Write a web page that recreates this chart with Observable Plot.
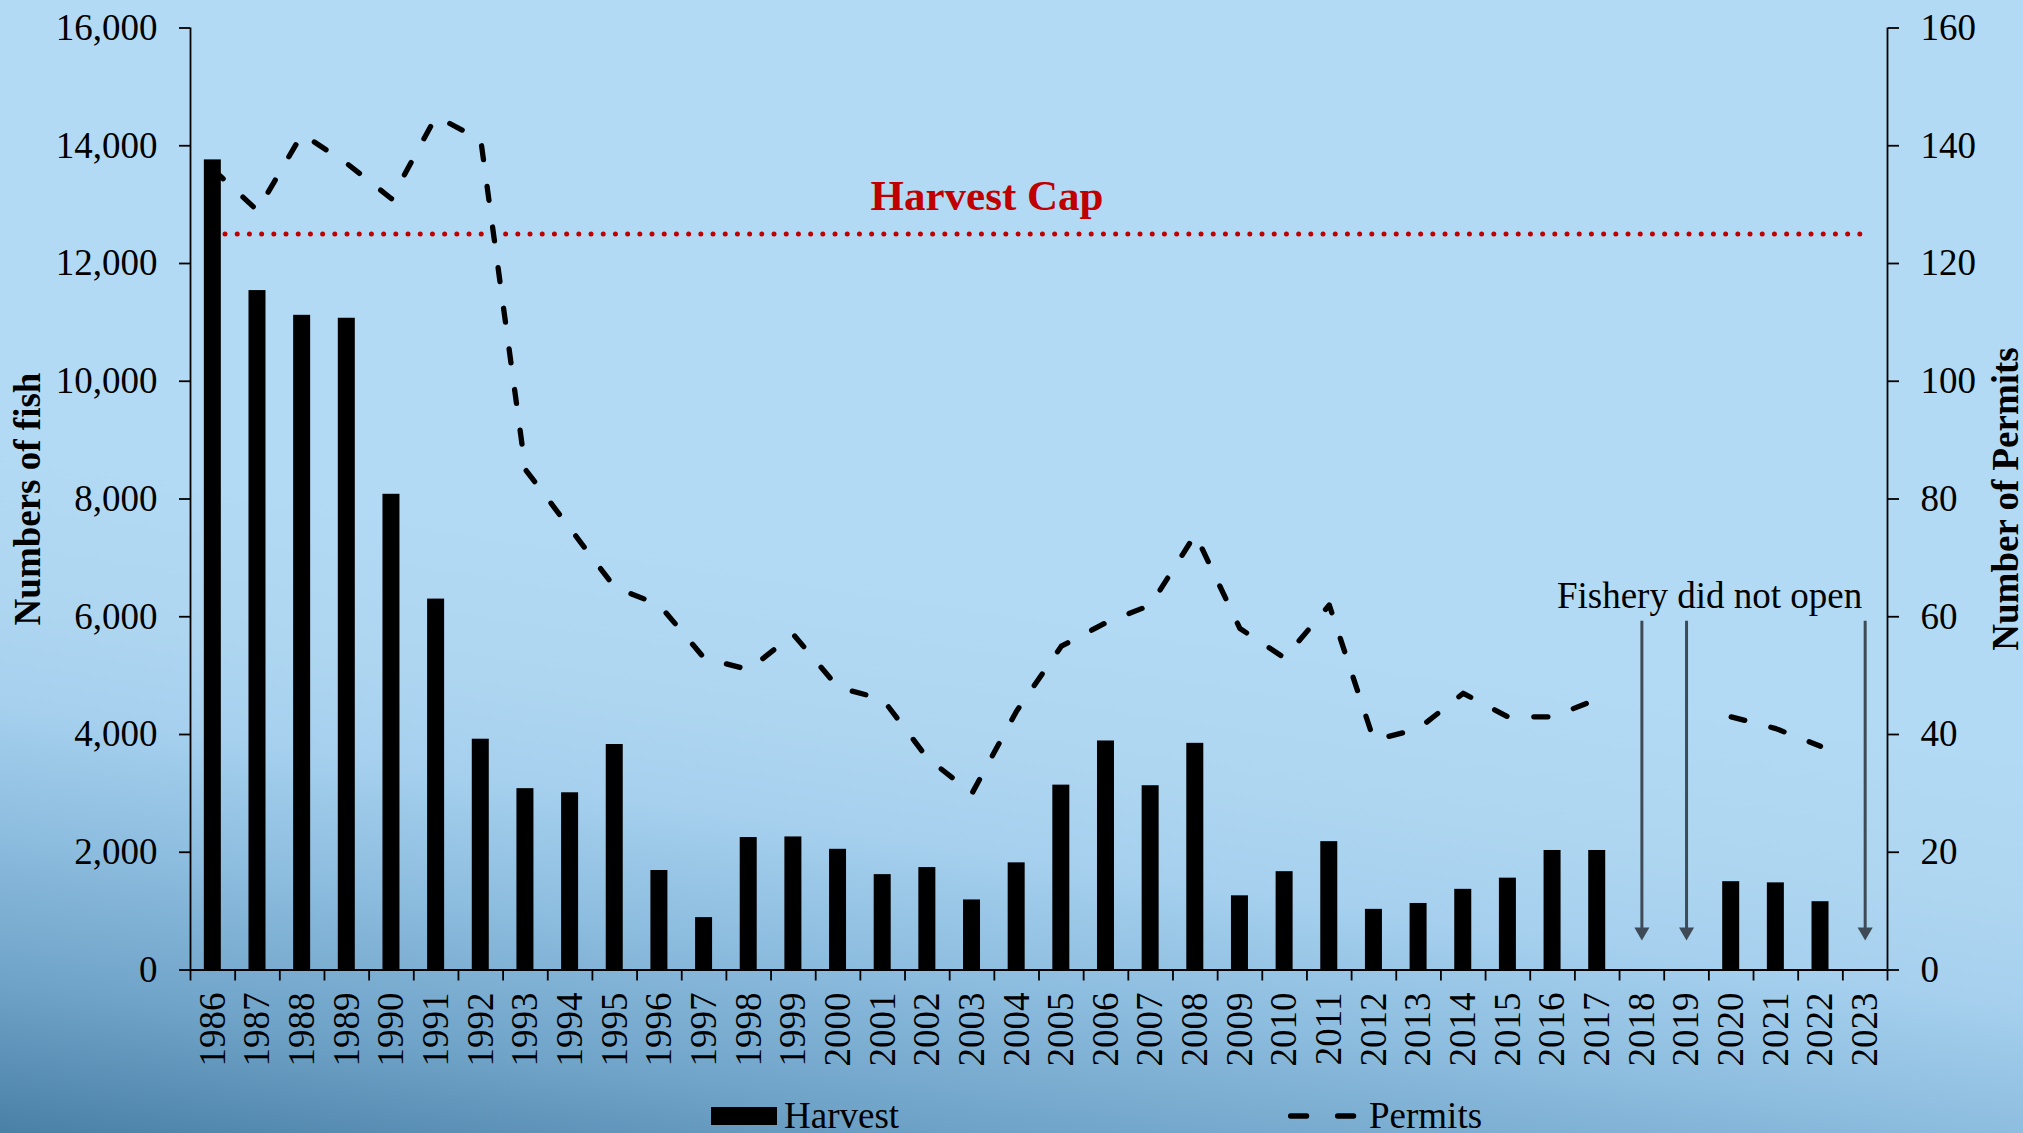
<!DOCTYPE html>
<html>
<head>
<meta charset="utf-8">
<script src="https://cdn.jsdelivr.net/npm/d3@7"></script>
<script src="https://cdn.jsdelivr.net/npm/@observablehq/plot@0.6"></script>
<style>
  html, body { margin: 0; padding: 0; }
  body { width: 2023px; height: 1133px; overflow: hidden; }
  #wrap {
    position: relative; width: 2023px; height: 1133px;
    font-family: "Liberation Serif", "Times New Roman", serif;
    background: linear-gradient(188.5deg, #B3DAF4 0%, #B3DAF4 52%, #AED6F1 63%, #A6D0EE 70%, #8DBDDF 79%, #6FA3C8 89.5%, #4B80A6 100%);
  }
  #chart { position: absolute; left: 0; top: 0; }
  #legend { position: absolute; left: 0; top: 1090px; width: 2023px; height: 43px; }
</style>
</head>
<body>
<div id="wrap">
  <div id="chart"></div>
  <div id="legend"></div>
</div>
<script>
// ---- data ----
const years = ["1986","1987","1988","1989","1990","1991","1992","1993","1994","1995",
  "1996","1997","1998","1999","2000","2001","2002","2003","2004","2005",
  "2006","2007","2008","2009","2010","2011","2012","2013","2014","2015",
  "2016","2017","2018","2019","2020","2021","2022","2023"];
const harvest = [13760, 11540, 11120, 11070, 8080, 6300, 3920, 3080, 3010, 3830,
  1690, 890, 2250, 2260, 2050, 1620, 1740, 1190, 1820, 3140,
  3890, 3130, 3850, 1260, 1670, 2180, 1030, 1130, 1370, 1560,
  2030, 2030, null, null, 1500, 1480, 1160, null];
const permits = [136, 129, 142, 137, 131, 145, 141, 85, 75, 65,
  62, 53, 51, 57, 48, 46, 36, 30, 44, 55,
  59, 62, 74, 58, 53, 62, 39, 41, 47, 43,
  43, 46, null, null, 43, 41, 38, null];
const leftTicks = [0, 2000, 4000, 6000, 8000, 10000, 12000, 14000, 16000];
const rightTicks = [0, 20, 40, 60, 80, 100, 120, 140, 160];
const harvestCap = 12500;
const closedYears = ["2018", "2019", "2023"];
const arrowTop = 5925;      // harvest units
const arrowTip = 650;       // harvest units
const noteText = "Fishery did not open";
const noteY = 6150;
const capLabel = "Harvest Cap";
const capLabelYear = "2003";
const ratio = 16000 / 160;  // left units per permit

const table = years.map((y, i) => ({year: y, harvest: harvest[i], permits: permits[i]}));

// ---- layout ----
const W = 2023, H = 1090;
const mL = 190, mR = 136, mT = 27.5, mB = H - 969.5;
const step = (W - mL - mR) / years.length;
const barW = 17;
const inset = (step - barW) / 2;
const FONT = 37;
const axisColor = "#000";

const chart = Plot.plot({
  width: W, height: H,
  marginLeft: mL, marginRight: mR, marginTop: mT, marginBottom: mB,
  style: {background: "transparent", fontFamily: '"Liberation Serif", "Times New Roman", serif', fontSize: FONT + "px", color: "#000", overflow: "visible"},
  x: {type: "band", domain: years, padding: 0, round: false, axis: null},
  y: {domain: [0, 16000], axis: null},
  marks: [
    // harvest cap dotted line
    Plot.line(years, {x: d => d, y: () => harvestCap, stroke: "#C00000", strokeWidth: 5, strokeDasharray: "0 12.2", strokeLinecap: "round"}),
    Plot.text([capLabel], {x: () => capLabelYear, y: () => harvestCap, text: d => d, dx: 15, dy: -24, lineAnchor: "bottom", textAnchor: "middle", fill: "#C00000", fontWeight: "bold", fontSize: 43}),
    // permits dashed line (secondary axis scaled into left units)
    Plot.line(table, {x: "year", y: d => d.permits == null ? NaN : d.permits * ratio, stroke: "#000", strokeWidth: 5.3, strokeDasharray: "14 27", strokeLinecap: "round", strokeLinejoin: "round"}),
    // harvest bars
    Plot.barY(table.filter(d => d.harvest != null), {x: "year", y: "harvest", fill: "#000", insetLeft: inset, insetRight: inset}),
    // arrows for closed years
    Plot.ruleX(closedYears, {x: d => d, y1: () => arrowTop, y2: () => arrowTip, stroke: "#3E4B57", strokeWidth: 3}),
    Plot.dot(closedYears, {x: d => d, y: () => arrowTip, symbol: "triangle", rotate: 180, r: 5.6, fill: "#3E4B57", stroke: "none"}),
    Plot.text([noteText], {x: () => "2023", y: () => noteY, text: d => d, textAnchor: "end", lineAnchor: "bottom", dx: -3, fontSize: FONT, fill: "#000"}),
    // axis lines
    Plot.ruleY([0], {stroke: axisColor, strokeWidth: 1.8}),
    Plot.ruleX([years[0]], {x: d => d, dx: -step / 2, stroke: axisColor, strokeWidth: 1.8}),
    Plot.ruleX([years[years.length - 1]], {x: d => d, dx: step / 2, stroke: axisColor, strokeWidth: 1.8}),
    // left axis
    Plot.axisY({ticks: leftTicks, tickSize: 11, tickPadding: 22, tickFormat: d3.format(","), fontSize: FONT, label: null, strokeWidth: 1.8}),
    // right axis
    Plot.axisY({anchor: "right", ticks: rightTicks.map(v => v * ratio), tickSize: 11, tickPadding: 22, tickFormat: v => String(v / ratio), fontSize: FONT, label: null, strokeWidth: 1.8}),
    // x axis labels
    Plot.axisX({tickSize: 0, tickPadding: 22.5, tickRotate: -90, fontSize: FONT, label: null}),
    // x axis ticks at band boundaries
    Plot.axisX({tickSize: 11, tickFormat: () => "", dx: -step / 2, label: null, strokeWidth: 1.8}),
    Plot.axisX([years[years.length - 1]], {tickSize: 11, tickFormat: () => "", dx: step / 2, label: null, strokeWidth: 1.8}),
    // axis titles
    Plot.text(["Numbers of fish"], {frameAnchor: "left", text: d => d, rotate: -90, dx: -162, textAnchor: "middle", lineAnchor: "middle", fontWeight: "bold", fontSize: FONT, fill: "#000"}),
    Plot.text(["Number of Permits"], {frameAnchor: "right", text: d => d, rotate: -90, dx: 119, textAnchor: "middle", lineAnchor: "middle", fontWeight: "bold", fontSize: FONT, fill: "#000"})
  ]
});
document.getElementById("chart").appendChild(chart);

// ---- legend ----
const legend = d3.select("#legend").append("svg")
  .attr("width", W).attr("height", 43)
  .style("overflow", "visible")
  .style("font-family", '"Liberation Serif", "Times New Roman", serif')
  .style("font-size", FONT + "px");
legend.append("rect").attr("x", 711).attr("y", 17).attr("width", 66).attr("height", 18).attr("fill", "#000");
legend.append("text").attr("x", 784).attr("y", 38).text("Harvest");
legend.append("line").attr("x1", 1290.6).attr("x2", 1355.4).attr("y1", 26).attr("y2", 26)
  .attr("stroke", "#000").attr("stroke-width", 5.3).attr("stroke-dasharray", "16 31").attr("stroke-linecap", "round");
legend.append("text").attr("x", 1369).attr("y", 38).text("Permits");
</script>
</body>
</html>
